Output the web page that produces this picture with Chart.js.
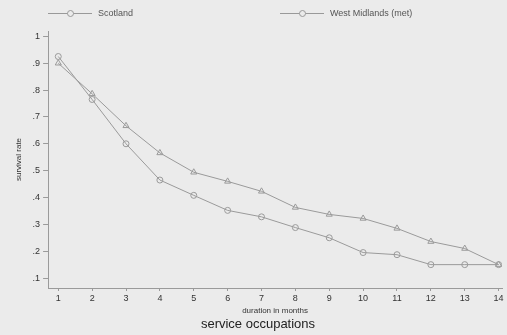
<!DOCTYPE html>
<html>
<head>
<meta charset="utf-8">
<script src="https://cdn.jsdelivr.net/npm/chart.js@4/dist/chart.umd.min.js"></script>
<style>
body{margin:0;background:#ebebeb;font-family:"Liberation Sans",Arial,sans-serif;}
#wrap{position:relative;width:507px;height:335px;}
.leg{position:absolute;top:8px;font-size:9px;color:#555;display:flex;align-items:center;}
.leg .ln{position:relative;width:44px;height:1px;background:#999;margin-right:6px;}
.leg .ln i{position:absolute;left:19px;top:-3px;width:5px;height:5px;border:1px solid #999;border-radius:50%;background:#ebebeb;}
</style>
</head>
<body>
<div id="wrap">
<canvas id="chart" width="507" height="335"></canvas>
<div class="leg" style="left:48px"><span class="ln"><i></i></span>Scotland</div>
<div class="leg" style="left:280px"><span class="ln"><i></i></span>West Midlands (met)</div>
</div>
<script>
const months = [1,2,3,4,5,6,7,8,9,10,11,12,13,14];
const scotland = [0.925,0.765,0.60,0.465,0.408,0.352,0.328,0.288,0.25,0.195,0.187,0.15,0.15,0.15];
const westMidlands = [0.90,0.786,0.667,0.566,0.494,0.46,0.423,0.363,0.337,0.322,0.285,0.236,0.21,0.15];
const yTicks = [0.1,0.2,0.3,0.4,0.5,0.6,0.7,0.8,0.9,1];

const lineColor = "#9a9a9a";

function pts(arr){
return months.map((m,i)=>({x:m,y:arr[i]}));
}

const ctx = document.getElementById("chart").getContext("2d");

const chart = new Chart(ctx,{
type:"line",
data:{
datasets:[{
label:"Scotland",
data:pts(scotland),
borderColor:lineColor,
borderWidth:1,
pointStyle:"circle",
pointRadius:3,
pointBorderColor:lineColor,
pointBackgroundColor:"rgba(0,0,0,0)",
pointBorderWidth:1
},{
label:"West Midlands (met)",
data:pts(westMidlands),
borderColor:lineColor,
borderWidth:1,
pointStyle:"triangle",
pointRadius:3.5,
pointBorderColor:lineColor,
pointBackgroundColor:"rgba(0,0,0,0)",
pointBorderWidth:1
}]
},
options:{
responsive:false,
animation:false,
layout:{padding:{left:14,top:31,right:5,bottom:3}},
plugins:{
legend:{display:false},
tooltip:{enabled:false},
title:{
display:true,
position:"bottom",
text:"service occupations",
color:"#222",
font:{family:"Liberation Sans",size:13,weight:"normal"},
padding:{top:1,bottom:0}
}
},
scales:{
x:{
type:"linear",
min:0.7,
max:14.1,
afterBuildTicks:(s)=>{s.ticks=months.map(v=>({value:v}));},
ticks:{color:"#333",font:{family:"Liberation Sans",size:9},padding:2,maxRotation:0},
grid:{drawOnChartArea:false,drawTicks:true,tickLength:3,color:lineColor},
border:{color:lineColor},
title:{display:true,text:"duration in months",color:"#333",font:{family:"Liberation Sans",size:8},padding:{top:0,bottom:0}}
},
y:{
min:0.063,
max:1.02,
afterBuildTicks:(s)=>{s.ticks=yTicks.map(v=>({value:v}));},
ticks:{
color:"#333",
font:{family:"Liberation Sans",size:9},
padding:3,
callback:(v)=>v>=1?"1":String(Math.round(v*10)/10).replace(/^0/,"")
},
grid:{drawOnChartArea:false,drawTicks:true,tickLength:5,color:lineColor},
border:{color:lineColor},
title:{display:true,text:"survival rate",color:"#333",font:{family:"Liberation Sans",size:8},padding:{top:0,bottom:6}}
}
}
}
});
</script>
</body>
</html>
